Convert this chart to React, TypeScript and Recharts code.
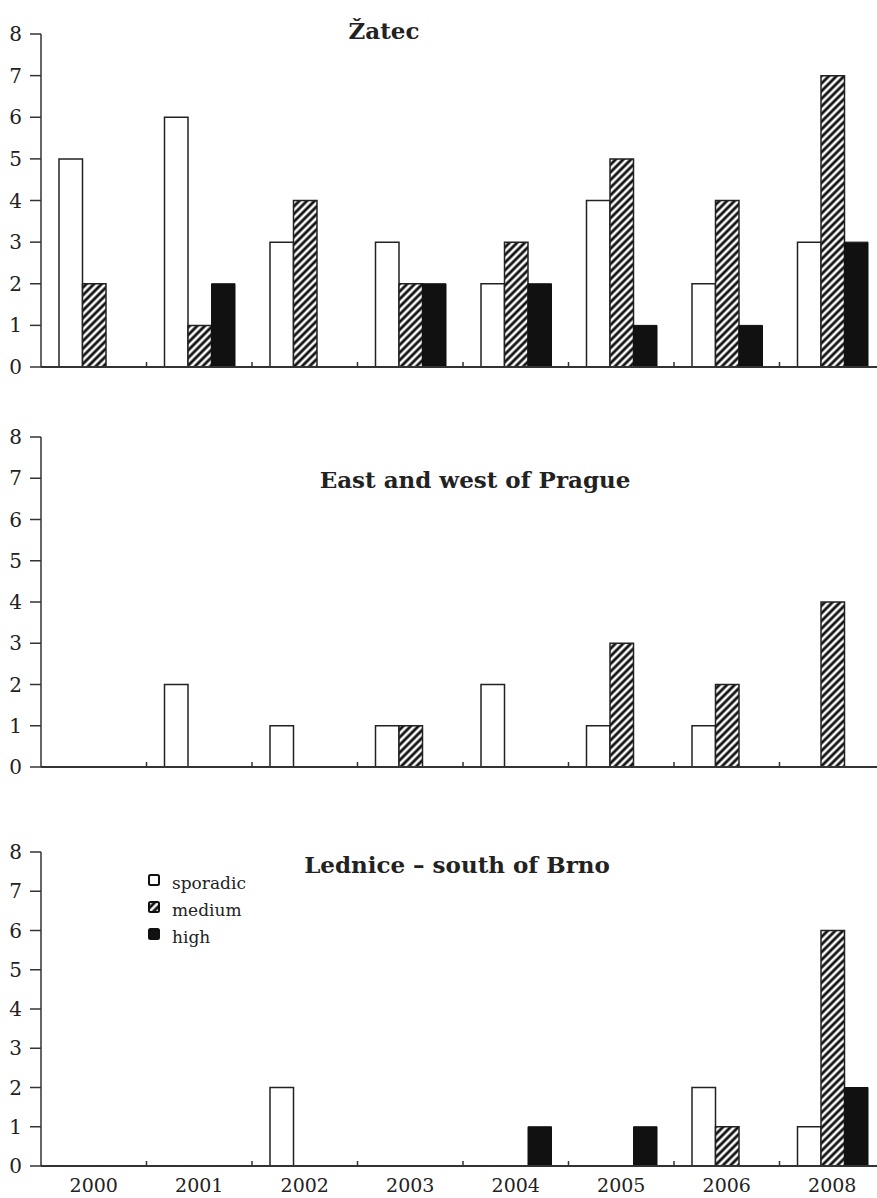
import { BarChart, Bar, XAxis, YAxis, Legend } from 'recharts';

const years = ['2000', '2001', '2002', '2003', '2004', '2005', '2006', '2008'];
const yTicks = [0, 1, 2, 3, 4, 5, 6, 7, 8];

const zatecSporadic = [5, 6, 3, 3, 2, 4, 2, 3];
const zatecMedium = [2, 1, 4, 2, 3, 5, 4, 7];
const zatecHigh = [0, 2, 0, 2, 2, 1, 1, 3];

const pragueSporadic = [0, 2, 1, 1, 2, 1, 1, 0];
const pragueMedium = [0, 0, 0, 1, 0, 3, 2, 4];
const pragueHigh = [0, 0, 0, 0, 0, 0, 0, 0];

const ledniceSporadic = [0, 0, 2, 0, 0, 0, 2, 1];
const ledniceMedium = [0, 0, 0, 0, 0, 0, 1, 6];
const ledniceHigh = [0, 0, 0, 0, 1, 1, 0, 2];

const legendNames = ['sporadic', 'medium', 'high'];

const FONT = '"DejaVu Serif", serif';
const INK = '#222';
const CHART_W = 890;
const Y_W = 41;
const RIGHT = 5;
const HALF_BAND = (CHART_W - Y_W - RIGHT) / years.length / 2;

const build = (s: number[], m: number[], h: number[]) =>
  years.map((year, i) => ({ year, sporadic: s[i], medium: m[i], high: h[i] }));

// ticks sit on the category boundaries, labels under the centres
const makeTick = (showLabel: boolean) => (props: any) => {
  const { x, y, payload, index } = props;
  return (
    <g>
      {index < years.length - 1 && (
        <line x1={x + HALF_BAND} x2={x + HALF_BAND} y1={y} y2={y - 5} stroke="#333" strokeWidth={1.5} />
      )}
      {showLabel && (
        <text x={x} y={y + 26} textAnchor="middle" fill={INK} fontSize={19} fontFamily={FONT}>
          {payload.value}
        </text>
      )}
    </g>
  );
};

function LegendBox() {
  return (
    <svg width={130} height={90}>
      {legendNames.map((name, i) => {
        const fill = i === 0 ? '#fff' : i === 1 ? 'url(#hatch)' : '#111';
        return (
          <g key={name}>
            <rect x={9} y={15 + i * 27} width={10} height={10} rx={1.5} fill={fill} stroke="#111" strokeWidth={2} />
            <text x={32} y={29 + i * 27} fill={INK} fontSize={17} fontFamily={FONT}>{name}</text>
          </g>
        );
      })}
    </svg>
  );
}

interface PanelProps {
  top: number;
  height: number;
  marginTop: number;
  marginBottom: number;
  data: any[];
  showLabels?: boolean;
  showLegend?: boolean;
}

function Panel({ top, height, marginTop, marginBottom, data, showLabels, showLegend }: PanelProps) {
  return (
    <div style={{ position: 'absolute', left: 0, top, width: 877, height, overflow: 'hidden' }}>
      <BarChart
        width={CHART_W}
        height={height}
        data={data}
        barGap={0}
        margin={{ top: marginTop, right: RIGHT, bottom: marginBottom, left: 0 }}
      >
        <XAxis
          dataKey="year"
          height={30}
          tickLine={false}
          tickSize={0}
          tickMargin={0}
          interval={0}
          axisLine={{ stroke: '#333', strokeWidth: 2 }}
          tick={makeTick(!!showLabels)}
        />
        <YAxis
          width={Y_W}
          domain={[0, 8]}
          ticks={yTicks}
          interval={0}
          tickSize={11}
          tickMargin={8}
          axisLine={{ stroke: '#333', strokeWidth: 1.5 }}
          tickLine={{ stroke: '#333', strokeWidth: 1.5 }}
          tick={{ fontSize: 20, fill: INK, fontFamily: FONT }}
        />
        {showLegend && (
          <Legend
            layout="horizontal"
            verticalAlign="middle"
            align="center"
            wrapperStyle={{ left: 140, top: 60, width: 130, height: 90 }}
            content={() => <LegendBox />}
          />
        )}
        <Bar dataKey="sporadic" name="sporadic" fill="#fff" stroke={INK} strokeWidth={1.5} barSize={23.5} isAnimationActive={false} />
        <Bar dataKey="medium" name="medium" fill="url(#hatch)" stroke={INK} strokeWidth={1.5} barSize={23.5} isAnimationActive={false} />
        <Bar dataKey="high" name="high" fill="#111" stroke="#111" strokeWidth={1} barSize={23.5} isAnimationActive={false} />
      </BarChart>
    </div>
  );
}

export default function App() {
  return (
    <div style={{ position: 'absolute', left: 0, top: 0, width: 877, height: 1198, background: '#fff', overflow: 'hidden' }}>
      <svg width={0} height={0} style={{ position: 'absolute' }}>
        <defs>
          <pattern id="hatch" patternUnits="userSpaceOnUse" width={5.4} height={5.4} patternTransform="rotate(45)">
            <rect width={5.4} height={5.4} fill="#fff" />
            <line x1={2.7} y1={0} x2={2.7} y2={5.4} stroke="#111" strokeWidth={2.8} />
          </pattern>
        </defs>
      </svg>
      <Panel top={0} height={400} marginTop={34} marginBottom={3} data={build(zatecSporadic, zatecMedium, zatecHigh)} />
      <Panel top={400} height={400} marginTop={37} marginBottom={3} data={build(pragueSporadic, pragueMedium, pragueHigh)} />
      <Panel
        top={800}
        height={398}
        marginTop={52}
        marginBottom={2}
        data={build(ledniceSporadic, ledniceMedium, ledniceHigh)}
        showLabels
        showLegend
      />
      <svg width={877} height={1198} style={{ position: 'absolute', left: 0, top: 0, pointerEvents: 'none' }}>
        <g fill={INK} fontFamily={FONT} fontWeight="bold" fontSize={23} textAnchor="middle">
          <text x={384} y={39}>Žatec</text>
          <text x={475} y={488}>East and west of Prague</text>
          <text x={457} y={873}>Lednice – south of Brno</text>
        </g>
      </svg>
    </div>
  );
}
